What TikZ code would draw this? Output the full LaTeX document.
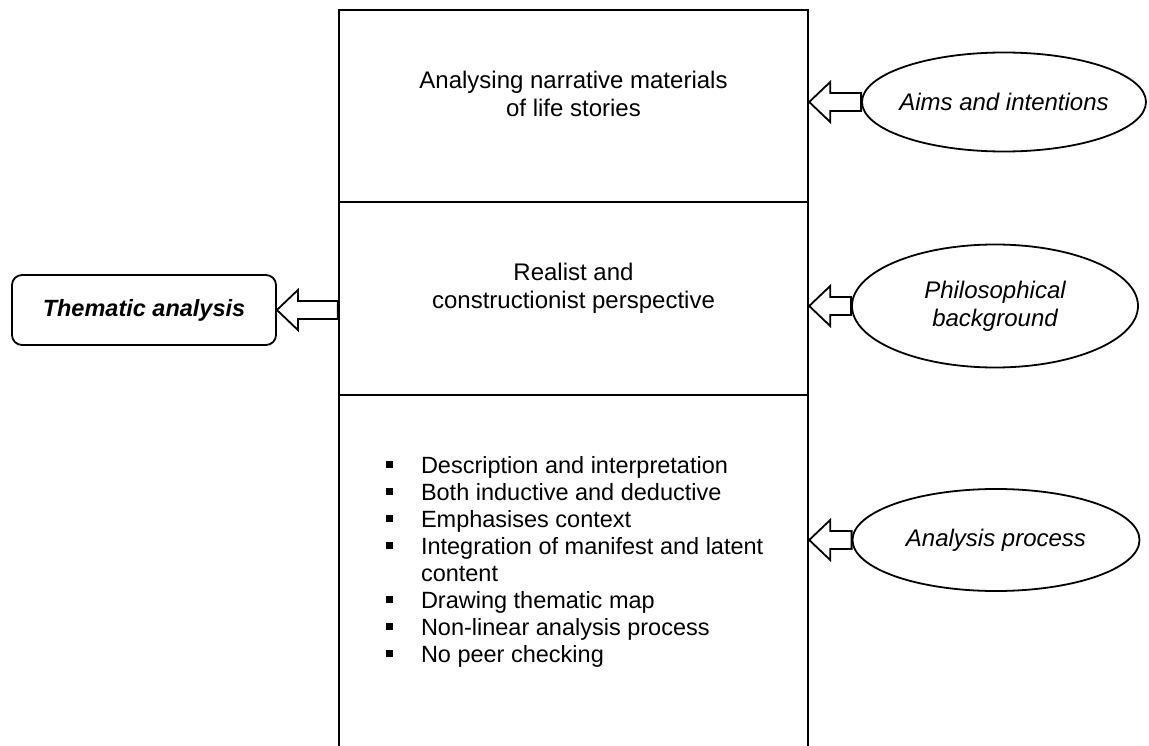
\documentclass[tikz,border=0pt]{standalone}
\usepackage{fontspec}
\setmainfont{Liberation Sans}
\usetikzlibrary{shapes.geometric,calc}
\newcommand{\tFlowArrow}[2]{%
  \draw[flow arrow] (#2) -- ($(#2)+(21,-20)$) -- ($(#2)+(21,-9)$) -- ($(#1)+(0,-9)$)
    -- ($(#1)+(0,9)$) -- ($(#2)+(21,9)$) -- ($(#2)+(21,20)$) -- cycle;}
\newcommand{\tBullet}{\rule[6pt]{7pt}{7pt}}

\begin{document}
\begin{tikzpicture}[x=1pt,y=-1pt,
  colbox/.style={draw, line width=2.4pt, minimum width=469pt, inner sep=0pt},
  sourceell/.style={ellipse, draw, line width=1.8pt, inner sep=0pt, align=center,
    font={\fontsize{24}{28}\selectfont\itshape}},
  boxtext/.style={align=center, inner sep=0pt, font={\fontsize{24}{28}\selectfont}},
  flow arrow/.style={draw, line width=1.8pt, fill=white, line join=miter}]
\path[use as bounding box, clip] (0,0) rectangle (1149,746);
% middle column
\node[colbox, minimum height=192pt] (aimsbox) at (573.5,106) {};
\node[colbox, minimum height=193pt] (relbox) at (573.5,298.5) {};
\node[colbox, minimum height=365pt] (procbox) at (573.5,577.5) {};
\node[boxtext] (aimstext) at ($(aimsbox.center)+(0,-12)$) {Analysing narrative materials\\of life stories};
\node[boxtext] (reltext) at ($(relbox.center)+(0,-10)$) {Realist and\\constructionist perspective};
\node[anchor=base west, inner sep=0pt, font={\fontsize{23.5}{27}\selectfont}] (proctext)
  at ($(procbox.north west)+(48,80)$) {%
  \begin{tabular}[t]{@{}p{35pt}@{}l@{}}
  \tBullet & Description and interpretation\\
  \tBullet & Both inductive and deductive\\
  \tBullet & Emphasises context\\
  \tBullet & Integration of manifest and latent\\
           & content\\
  \tBullet & Drawing thematic map\\
  \tBullet & Non-linear analysis process\\
  \tBullet & No peer checking
  \end{tabular}};
% right side
\node[sourceell, inner xsep=-30pt, minimum width=284pt, minimum height=99pt] (aims) at (1004,102) {Aims and intentions};
\node[sourceell, minimum width=286pt, minimum height=123pt] (philo) at (995,306) {Philosophical\\background};
\node[sourceell, minimum width=287pt, minimum height=102pt] (proc) at (996,540) {Analysis process};
% left side
\node[draw, line width=1.8pt, rounded corners=10pt, minimum width=264pt, minimum height=70pt,
  font={\fontsize{23.5}{28}\selectfont\bfseries\itshape}] (thematic) at (144,310) {Thematic analysis};
% arrows
\tFlowArrow{aims.west}{aimsbox.east |- aims.west}
\tFlowArrow{philo.west}{relbox.east |- philo.west}
\tFlowArrow{proc.west}{procbox.east |- proc.west}
\tFlowArrow{relbox.west |- thematic.east}{thematic.east}
\end{tikzpicture}
\end{document}
